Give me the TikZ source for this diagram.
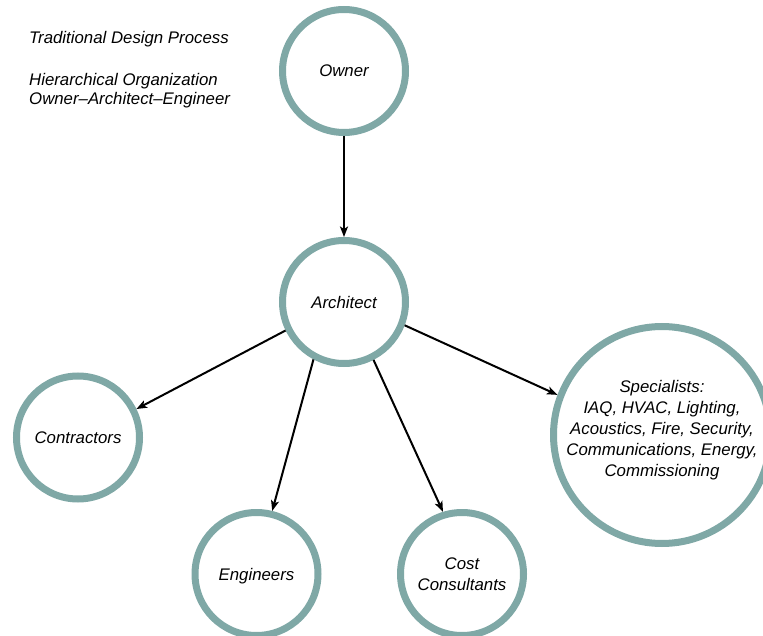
\documentclass[tikz,border=0pt]{standalone}
\usepackage{fontspec}
\setmainfont{Liberation Sans}
\usetikzlibrary{arrows.meta}
\definecolor{ringteal}{RGB}{127,168,166}
\begin{document}
\begin{tikzpicture}[x=1pt,y=-1pt,
  labelfont/.style={font=\fontsize{16.8}{20.6}\selectfont\itshape},
  ring/.style={circle,draw=ringteal,line width=7pt,fill=white,
    minimum size=123pt,inner sep=0pt,align=center,labelfont},
  bigring/.style={ring,minimum size=217pt},
  link/.style={draw=black,line width=2pt,
    -{Stealth[length=10.5pt,width=8pt,inset=2.5pt]}},
  note/.style={anchor=base west,inner sep=0pt,labelfont}]
\useasboundingbox (0,0) rectangle (763,636);
\clip (0,0) rectangle (763,636);

% heading text
\node[note] (t1) at (29,44) {Traditional Design Process};
\node[note] (t2) at (29,85.5) {Hierarchical Organization};
\node[note] (t3) at (29,105) {Owner--Architect--Engineer};

% participants
\node[ring] (owner) at (344,71) {Owner};
\node[ring] (arch)  at (344,302) {Architect};
\node[ring] (contr) at (78,437.5) {Contractors};
\node[ring,text depth=0pt] (eng) at (256.5,574) {Engineers};
\node[ring] (cost)  at (462,574) {Cost\\Consultants};
\node[bigring] (spec) at (662,435) {};
\node[align=center,font=\fontsize{16.8}{21}\selectfont\itshape,inner sep=0pt]
  (spectext) at (662,430)
  {Specialists:\\IAQ, HVAC, Lighting,\\Acoustics, Fire, Security,\\Communications, Energy,\\Commissioning};

% lines of authority
\draw[link] (owner) -- (arch);
\draw[link] (arch.206) -- (contr.26);
\draw[link] (arch.242) -- (eng.76);
\draw[link] (arch.297) -- (cost.107);
\draw[link] (arch.339) -- (spec.159);
\end{tikzpicture}
\end{document}
